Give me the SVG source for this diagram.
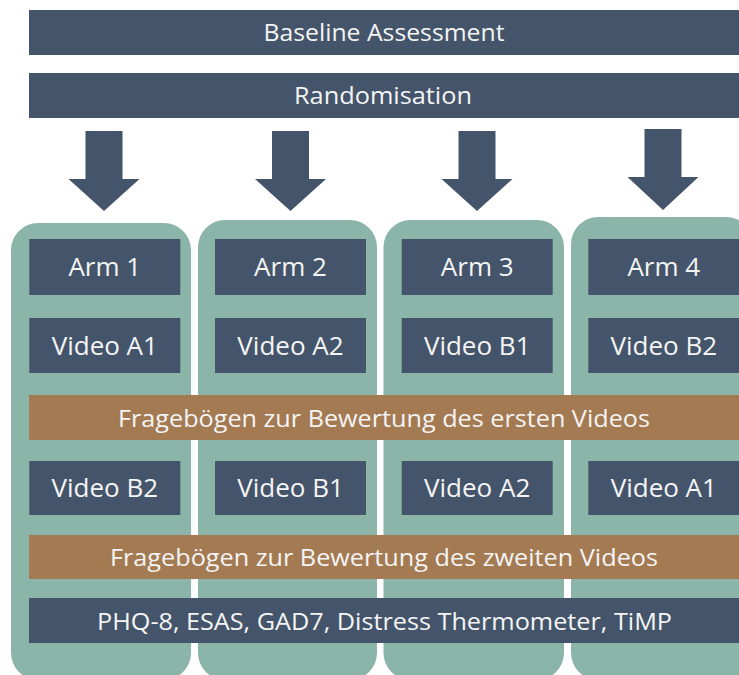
<svg xmlns="http://www.w3.org/2000/svg" width="739" height="675" viewBox="0 0 739 675">
  <style>
    .navy { fill: #44546A; }
    .arm { fill: #8CB5A9; }
    .quest { fill: #A47A52; }
    .arrow { fill: #44546A; }
    text { font-family: "Open Sans", "Noto Sans", sans-serif; fill: #F4F4F4; text-anchor: middle; }
    .big { font-size: 26px; }
    .wide { font-size: 24px; }
    .top { font-size: 23px; }
  </style>
  <rect width="739" height="675" fill="#FFFFFF"/>

  <!-- arm columns -->
  <g id="col-arm1"><rect class="arm" x="11" y="223" width="180" height="457" rx="27"/></g>
  <g id="col-arm2"><rect class="arm" x="198" y="220" width="179" height="460" rx="27"/></g>
  <g id="col-arm3"><rect class="arm" x="383.5" y="220" width="180.5" height="460" rx="27"/></g>
  <g id="col-arm4"><rect class="arm" x="571" y="217" width="182" height="463" rx="27"/></g>

  <!-- shared steps -->
  <g id="baseline">
    <rect class="navy" x="29" y="10" width="710" height="45"/>
    <text class="top" x="384" y="41" textLength="241" lengthAdjust="spacingAndGlyphs">Baseline Assessment</text>
  </g>
  <g id="randomisation">
    <rect class="navy" x="29" y="73" width="710" height="45"/>
    <text class="top" x="383" y="104" textLength="178" lengthAdjust="spacingAndGlyphs">Randomisation</text>
  </g>

  <!-- connectors -->
  <g id="connectors">
    <polygon class="arrow" points="85.5,131 122.5,131 122.5,179 139.5,179 104,211 68.5,179 85.5,179"/>
    <polygon class="arrow" points="272,131 309,131 309,179 326,179 290.5,211 255,179 272,179"/>
    <polygon class="arrow" points="458.5,131 495.5,131 495.5,179 512.5,179 477,211 441.5,179 458.5,179"/>
    <polygon class="arrow" points="644.5,129 681.5,129 681.5,177 698.5,177 663,210 627.5,177 644.5,177"/>
  </g>

  <!-- arm headers -->
  <g id="arm1"><rect class="navy" x="29.3" y="239" width="151" height="56"/><text class="big" x="104.8" y="276">Arm 1</text></g>
  <g id="arm2"><rect class="navy" x="215" y="239" width="151" height="56"/><text class="big" x="290.5" y="276">Arm 2</text></g>
  <g id="arm3"><rect class="navy" x="401.7" y="239" width="151" height="56"/><text class="big" x="477.2" y="276">Arm 3</text></g>
  <g id="arm4"><rect class="navy" x="588.3" y="239" width="151" height="56"/><text class="big" x="663.8" y="276">Arm 4</text></g>

  <!-- first video -->
  <g id="video1-a1"><rect class="navy" x="29.3" y="318" width="151" height="55"/><text class="big" x="104.8" y="354.5">Video A1</text></g>
  <g id="video1-a2"><rect class="navy" x="215" y="318" width="151" height="55"/><text class="big" x="290.5" y="354.5">Video A2</text></g>
  <g id="video1-b1"><rect class="navy" x="401.7" y="318" width="151" height="55"/><text class="big" x="477.2" y="354.5">Video B1</text></g>
  <g id="video1-b2"><rect class="navy" x="588.3" y="318" width="151" height="55"/><text class="big" x="663.8" y="354.5">Video B2</text></g>

  <g id="questionnaire1">
    <rect class="quest" x="29" y="395" width="710" height="45"/>
    <text class="wide" x="384" y="426.5" textLength="532" lengthAdjust="spacingAndGlyphs">Fragebögen zur Bewertung des ersten Videos</text>
  </g>

  <!-- second video -->
  <g id="video2-b2"><rect class="navy" x="29.3" y="461" width="151" height="54"/><text class="big" x="104.8" y="497">Video B2</text></g>
  <g id="video2-b1"><rect class="navy" x="215" y="461" width="151" height="54"/><text class="big" x="290.5" y="497">Video B1</text></g>
  <g id="video2-a2"><rect class="navy" x="401.7" y="461" width="151" height="54"/><text class="big" x="477.2" y="497">Video A2</text></g>
  <g id="video2-a1"><rect class="navy" x="588.3" y="461" width="151" height="54"/><text class="big" x="663.8" y="497">Video A1</text></g>

  <g id="questionnaire2">
    <rect class="quest" x="29" y="535" width="710" height="44"/>
    <text class="wide" x="384" y="566" textLength="548" lengthAdjust="spacingAndGlyphs">Fragebögen zur Bewertung des zweiten Videos</text>
  </g>

  <g id="outcomes">
    <rect class="navy" x="29" y="598" width="710" height="45"/>
    <text class="wide" x="384.5" y="629.5" textLength="575" lengthAdjust="spacingAndGlyphs">PHQ-8, ESAS, GAD7, Distress Thermometer, TiMP</text>
  </g>
</svg>
